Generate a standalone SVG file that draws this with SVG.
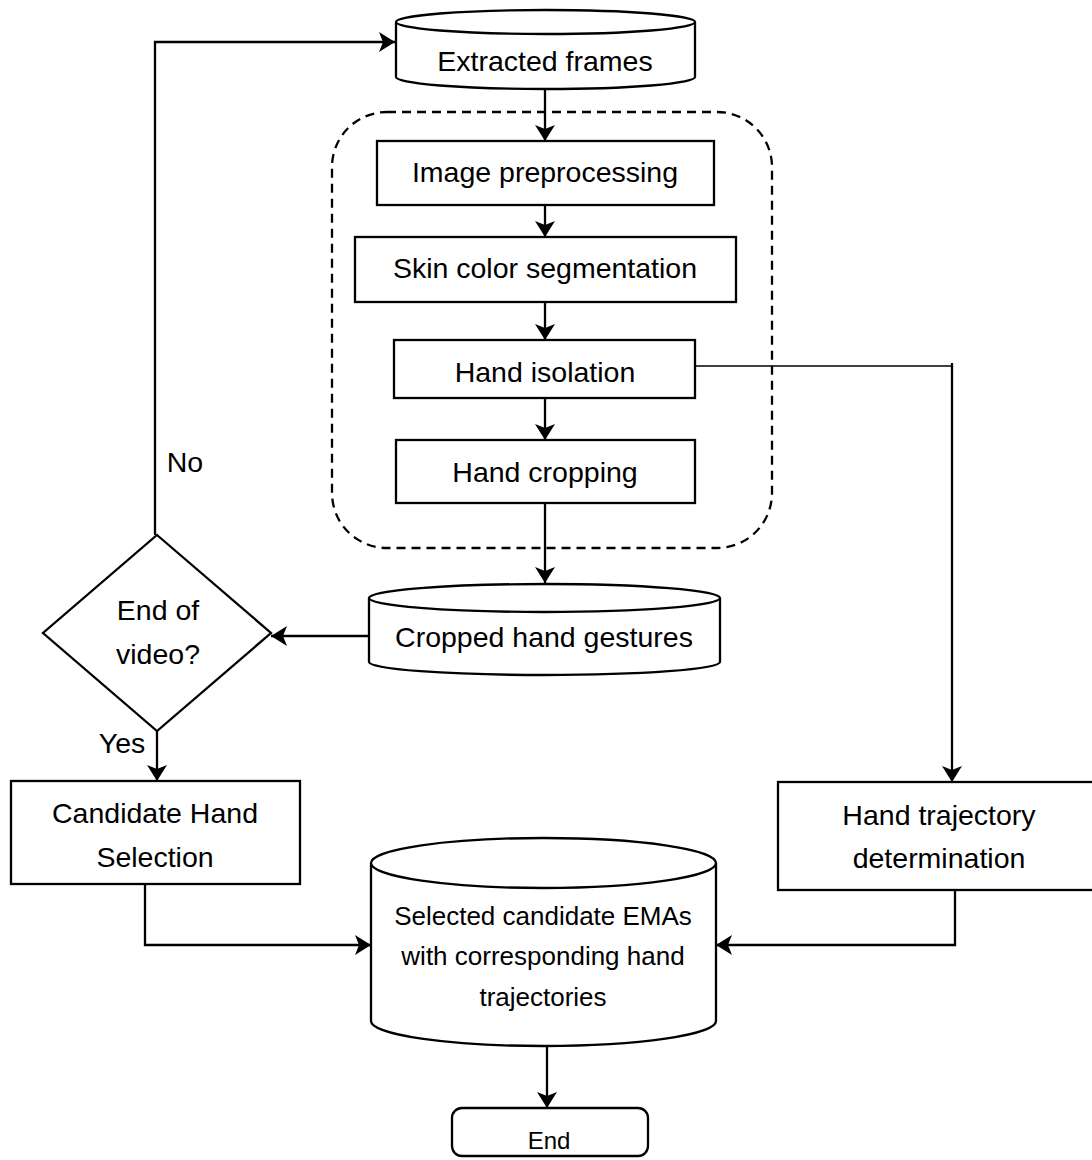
<svg xmlns="http://www.w3.org/2000/svg" width="1092" height="1160" viewBox="0 0 1092 1160">
<style>
.s{fill:#fff;stroke:#000;stroke-width:2.3}
.c{fill:none;stroke:#000;stroke-width:2.3}
.t{fill:none;stroke:#000;stroke-width:1.3}
text{font-family:"Liberation Sans",Arial,sans-serif;font-size:28.5px;fill:#000;text-anchor:middle}
.sm{font-size:26px}
.xs{font-size:24px}
</style>
<defs>
<marker id="a" markerUnits="userSpaceOnUse" markerWidth="18" markerHeight="22" refX="16" refY="10" orient="auto">
<path d="M0,0 L16,10 L0,20 L4,10 z" fill="#000"/>
</marker>
</defs>
<rect x="0" y="0" width="1092" height="1160" fill="#fff"/>
<g id="group-dashed">
<rect x="332" y="112" width="440" height="436" rx="55" fill="none" stroke="#000" stroke-width="2.3" stroke-dasharray="9,6"/>
</g>
<g id="connectors">
<path class="c" d="M155,535 V42 H395" marker-end="url(#a)"/>
<path class="c" d="M545,89 V141" marker-end="url(#a)"/>
<path class="c" d="M545,205 V237" marker-end="url(#a)"/>
<path class="c" d="M545,302 V340" marker-end="url(#a)"/>
<path class="c" d="M545,398 V440" marker-end="url(#a)"/>
<path class="c" d="M545,503 V583" marker-end="url(#a)"/>
<path class="c" d="M369,636 H271" marker-end="url(#a)"/>
<path class="c" d="M157,731 V781" marker-end="url(#a)"/>
<path class="t" d="M695,366 H952"/>
<path class="c" d="M952,363 V782" marker-end="url(#a)"/>
<path class="c" d="M145,884 V945 H371" marker-end="url(#a)"/>
<path class="c" d="M955,890 V945 H716" marker-end="url(#a)"/>
<path class="c" d="M547,1046 V1108" marker-end="url(#a)"/>
</g>
<g id="extracted-frames">
<path class="s" d="M396,22 V77 A149.5,12 0 0 0 695,77 V22"/>
<ellipse class="s" cx="545.5" cy="22" rx="149.5" ry="12"/>
<text x="545" y="71">Extracted frames</text>
</g>
<g id="image-preprocessing">
<rect class="s" x="377" y="141" width="337" height="64"/>
<text x="545" y="182">Image preprocessing</text>
</g>
<g id="skin-color-segmentation">
<rect class="s" x="355" y="237" width="381" height="65"/>
<text x="545" y="278">Skin color segmentation</text>
</g>
<g id="hand-isolation">
<rect class="s" x="394" y="340" width="301" height="58"/>
<text x="545" y="382">Hand isolation</text>
</g>
<g id="hand-cropping">
<rect class="s" x="396" y="440" width="299" height="63"/>
<text x="545" y="482">Hand cropping</text>
</g>
<g id="cropped-hand-gestures">
<path class="s" d="M369,598 V662 A175.5,13 0 0 0 720,662 V598"/>
<ellipse class="s" cx="544.5" cy="598" rx="175.5" ry="14"/>
<text x="544" y="647">Cropped hand gestures</text>
</g>
<g id="end-of-video">
<polygon class="s" points="157,535 271,633 157,731 43,633"/>
<text x="158" y="620">End of</text>
<text x="158" y="664">video?</text>
</g>
<g id="labels">
<text x="185" y="472">No</text>
<text x="122" y="753">Yes</text>
</g>
<g id="candidate-hand-selection">
<rect class="s" x="11" y="781" width="289" height="103"/>
<text x="155" y="823">Candidate Hand</text>
<text x="155" y="867">Selection</text>
</g>
<g id="hand-trajectory-determination">
<rect class="s" x="778" y="782" width="318" height="108"/>
<text x="939" y="825">Hand trajectory</text>
<text x="939" y="868">determination</text>
</g>
<g id="selected-candidate-emas">
<path class="s" d="M371,863 V1021 A172.5,25 0 0 0 716,1021 V863"/>
<ellipse class="s" cx="543.5" cy="863" rx="172.5" ry="25"/>
<text class="sm" x="543" y="925">Selected candidate EMAs</text>
<text class="sm" x="543" y="965">with corresponding hand</text>
<text class="sm" x="543" y="1006">trajectories</text>
</g>
<g id="end">
<rect class="s" x="452" y="1108" width="196" height="48" rx="10"/>
<text class="xs" x="549" y="1149">End</text>
</g>
</svg>
